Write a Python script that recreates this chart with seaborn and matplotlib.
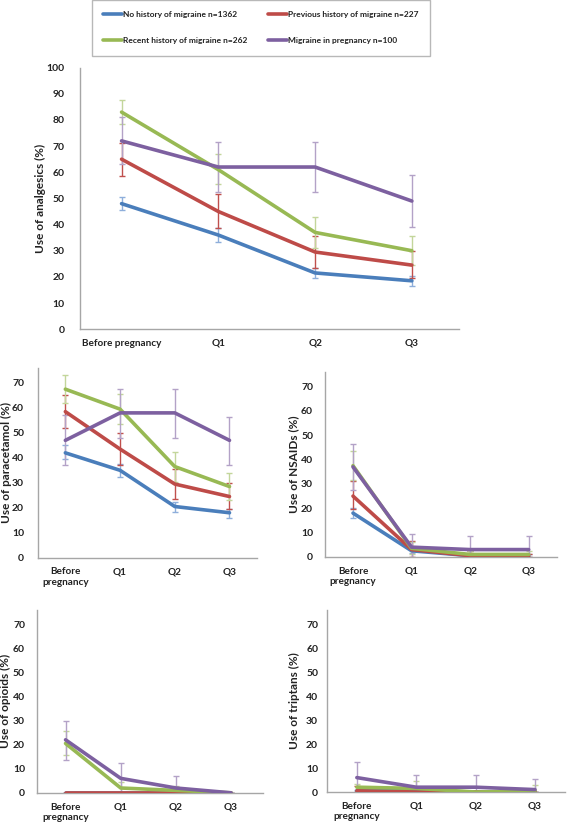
import numpy as np
import pandas as pd
import seaborn as sns
import matplotlib.pyplot as plt
from matplotlib.lines import Line2D

groups = ["No history of migraine n=1362", "Previous history of migraine n=227",
          "Recent history of migraine n=262", "Migraine in pregnancy n=100"]
periods = ["Before pregnancy", "Q1", "Q2", "Q3"]

line_colors = ["#4A7EBB", "#BE4B48", "#98B954", "#7D60A0"]
err_colors = ["#8EAEDB", "#C0504D", "#C3D69B", "#B3A2C7"]

# rows follow the order of groups
analgesics_mean = [[48, 36, 21.5, 18.5], [65, 45, 29.5, 24.5], [83, 61, 37, 30], [72, 62, 62, 49]]
analgesics_lo = [[45.5, 33.5, 19.5, 16.5], [58.5, 38.5, 23.5, 19.5], [78.5, 55.5, 31, 24.5], [63, 52.5, 52.5, 39]]
analgesics_hi = [[50.5, 38.5, 23.5, 20.5], [71, 51.5, 35.5, 30], [87.5, 67, 43, 35.5], [81, 71.5, 71.5, 59]]

paracetamol_mean = [[42, 35, 20.5, 18], [58.5, 43.5, 29.5, 24.5], [67.5, 59.5, 36.5, 28.5], [47, 58, 58, 47]]
paracetamol_lo = [[39.5, 32.5, 18.5, 16], [52, 37, 23.5, 19.5], [62, 53.5, 30.5, 23], [37, 48, 48, 37]]
paracetamol_hi = [[45, 37.5, 22.5, 19.5], [65, 50, 35.5, 30], [73, 65.5, 42.5, 34], [57, 67.5, 67.5, 56.5]]

nsaids_mean = [[18, 2.5, 0.5, 0.5], [25, 3, 0.5, 0], [37.5, 3.5, 1, 1], [37, 4, 3, 3]]
nsaids_lo = [[16, 1.5, 0, 0], [19.5, 0, 0, 0], [31.5, 1, 0, 0], [27.5, 0, 0, 0]]
nsaids_hi = [[20, 3.5, 1, 1], [31, 6.5, 2.5, 1], [43.5, 6, 2.5, 2.5], [46.5, 9.5, 8.5, 8.5]]

opioids_mean = [[0, 0, 0, 0], [0, 0, 0, 0], [20.5, 2, 1, 0], [22, 6, 2, 0]]
opioids_lo = [[0, 0, 0, 0], [0, 0, 0, 0], [15.5, 0, 0, 0], [13.5, 0, 0, 0]]
opioids_hi = [[0, 0, 0, 0], [0, 0, 0, 0], [25.5, 4.5, 3, 0], [30, 12.5, 7, 0]]

triptans_mean = [[0.5, 0.5, 0, 0], [0.5, 0, 0, 0], [2, 1.5, 0, 0.5], [6, 2, 2, 1]]
triptans_lo = [[0, 0, 0, 0], [0, 0, 0, 0], [0, 0, 0, 0], [0, 0, 0, 0]]
triptans_hi = [[1, 1, 0, 0], [2.5, 0, 0, 0], [3.5, 4.5, 0, 3], [12.5, 7, 7, 5.5]]

sns.set_theme(style="white")
plt.rcParams['font.family'] = ['Lato', 'DejaVu Sans']

fig = plt.figure(figsize=(5.67, 8.25), dpi=100)


def draw_panel(rect, mean, lo, hi, ylabel, ymax, yticks, xlim, xlabels, ypad, label_x):
    ax = fig.add_axes(rect)
    rows = []
    for g, vals in zip(groups, mean):
        for k, v in enumerate(vals):
            rows.append({"group": g, "pos": k, "value": v})
    df = pd.DataFrame(rows)
    for i, g in enumerate(groups):
        m = np.array(mean[i])
        ax.errorbar(range(len(periods)), m, yerr=[m - np.array(lo[i]), np.array(hi[i]) - m],
                    fmt="none", ecolor=err_colors[i], elinewidth=1.0, capsize=2.5, capthick=1.0, zorder=2)
    sns.lineplot(data=df, x="pos", y="value", hue="group", hue_order=groups,
                 palette=line_colors, lw=2.6, legend=False, ax=ax, zorder=3)
    ax.set_xlim(*xlim)
    ax.set_ylim(0, ymax)
    ax.set_yticks(yticks)
    ax.set_xticks(range(len(periods)))
    ax.set_xticklabels(xlabels, fontsize=7.2, fontweight="bold", color="#222222")
    ax.set_yticklabels([str(t) for t in yticks], fontsize=7.5, fontweight="bold", color="#222222")
    ax.set_xlabel("")
    ax.set_ylabel(ylabel, fontsize=8.5, fontweight="bold", color="#222222")
    # label x is the right edge of the rotated label, in axes fraction
    ax.yaxis.set_label_coords(label_x, 0.5)
    ax.tick_params(axis="y", length=0, pad=ypad)
    ax.tick_params(axis="x", length=0, pad=7)
    for s in ["top", "right"]:
        ax.spines[s].set_visible(False)
    for s in ["left", "bottom"]:
        ax.spines[s].set_color("#A6A6A6")
        ax.spines[s].set_linewidth(1.0)
    return ax


small_labels = ["Before\npregnancy", "Q1", "Q2", "Q3"]
small_ticks = list(range(0, 80, 10))

draw_panel([0.141, 0.601, 0.669, 0.317], analgesics_mean, analgesics_lo, analgesics_hi,
           "Use of analgesics (%)", 100, list(range(0, 110, 10)), (-0.43, 3.49), periods, 11, -0.09)
draw_panel([0.067, 0.324, 0.386, 0.230], paracetamol_mean, paracetamol_lo, paracetamol_hi,
           "Use of paracetamol (%)", 76, small_ticks, (-0.5, 3.5), small_labels, 10, -0.117)
draw_panel([0.573, 0.325, 0.409, 0.224], nsaids_mean, nsaids_lo, nsaids_hi,
           "Use of NSAIDs (%)", 76, small_ticks, (-0.48, 3.48), small_labels, 8.5, -0.112)
draw_panel([0.065, 0.039, 0.399, 0.222], opioids_mean, opioids_lo, opioids_hi,
           "Use of opioids (%)", 76, small_ticks, (-0.52, 3.58), small_labels, 8.5, -0.113)
draw_panel([0.577, 0.040, 0.419, 0.221], triptans_mean, triptans_lo, triptans_hi,
           "Use of triptans (%)", 76, small_ticks, (-0.5, 3.5), small_labels, 6.5, -0.113)

# legend fills by column, so reorder to read row by row like the original
order = [0, 2, 1, 3]
handles = [Line2D([0], [0], color=line_colors[i], lw=2.6) for i in order]
labels = [groups[i] for i in order]
leg = fig.legend(handles, labels, ncol=2, loc="upper center", bbox_to_anchor=(0.46, 1.0),
                 frameon=True, fancybox=False, prop={"size": 6, "weight": "bold"},
                 handlelength=2.3, handletextpad=0.15, labelspacing=2.3,
                 columnspacing=2.4, borderpad=1.35, borderaxespad=0)
leg.get_frame().set_edgecolor("#A6A6A6")
leg.get_frame().set_linewidth(1.0)
for t in leg.get_texts():
    t.set_color("#222222")

fig.savefig("out.png", dpi=100)
